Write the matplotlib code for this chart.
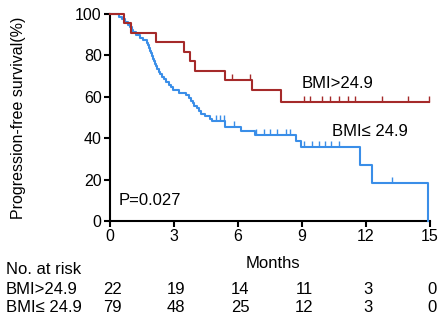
import matplotlib
matplotlib.use("Agg")
import matplotlib.pyplot as plt
import matplotlib.transforms as mtransforms
import numpy as np

plt.rcParams['font.family'] = ['Liberation Sans', 'DejaVu Sans']

# ---- data ----
red_times = [0.66, 0.97, 2.14, 3.47, 3.73, 3.97, 5.37, 6.67, 8.03]
red_surv = [95.5, 90.9, 86.4, 81.8, 77.3, 72.7, 68.2, 63.3, 57.6]
red_censor = [5.72, 6.56, 9.09, 9.38, 9.95, 10.31, 10.74, 11.16, 11.47, 12.77, 13.97, 14.95]
red_end = 14.95

blue_times = [0.40, 0.55, 0.70, 0.85, 0.95, 1.03, 1.10, 1.20, 1.40, 1.55, 1.73, 1.78,
              1.82, 1.86, 1.90, 1.95, 2.00, 2.05, 2.10, 2.15, 2.22, 2.28, 2.34, 2.45,
              2.53, 2.62, 2.75, 2.85, 2.95, 3.25, 3.55, 3.72, 3.80, 3.88, 3.95, 4.10,
              4.18, 4.25, 4.45, 4.70, 4.80, 5.39, 6.13, 6.80, 8.70, 8.94, 11.70, 12.27, 14.92]
blue_surv = [98.7, 97.5, 96.2, 94.9, 93.7, 92.4, 91.1, 89.9, 88.6, 87.3, 86.1, 84.8,
             83.5, 82.3, 81.0, 79.7, 78.5, 77.2, 75.9, 74.7, 73.4, 72.2, 70.9, 69.6,
             68.4, 67.1, 65.8, 64.6, 63.3, 62.0, 60.8, 59.5, 58.2, 57.0, 55.7, 54.4,
             53.2, 51.9, 50.6, 49.4, 48.1, 45.3, 43.6, 41.5, 38.8, 35.8, 27.0, 18.2, 0.0]
blue_censor = [4.95, 5.15, 5.34, 5.81, 6.83, 7.22, 7.49, 7.85, 8.27, 8.42,
               9.10, 9.48, 9.80, 10.10, 10.34, 10.74, 13.20]
blue_end = 14.92

x_ticks = [0, 3, 6, 9, 12, 15]
y_ticks = [0, 20, 40, 60, 80, 100]
risk_groups = ["BMI>24.9", "BMI\u2264 24.9"]
risk_red = [22, 19, 14, 11, 3, 0]
risk_blue = [79, 48, 25, 12, 3, 0]

RED = "#a52a2a"
BLUE = "#3a8ee8"
FS = 12

W, H = 447, 320
fig = plt.figure(figsize=(W / 100, H / 100), dpi=100)
ax = fig.add_axes([110 / W, (H - 221) / H, 320 / W, 207 / H])


def surv_at(times, surv, t):
    s = 100.0
    for ti, si in zip(times, surv):
        if ti <= t:
            s = si
    return s


def draw(times, surv, censor, end, color):
    xs = [0.0] + list(times)
    ys = [100.0] + list(surv)
    xs = xs + [end]
    ys = ys + [ys[-1]]
    ax.step(xs, ys, where='post', color=color, lw=1.5, clip_on=False, zorder=3)
    cy = [surv_at(times, surv, c) for c in censor]
    ax.plot(censor, cy, linestyle='none', marker=2, markersize=4.5,
            markeredgewidth=1.0, color=color, clip_on=False, zorder=3)


draw(blue_times, blue_surv, blue_censor, blue_end, BLUE)
draw(red_times, red_surv, red_censor, red_end, RED)

ax.set_xlim(0, 15)
ax.set_ylim(0, 100)
ax.set_xticks(x_ticks)
ax.set_yticks(y_ticks)
for s in ['top', 'right']:
    ax.spines[s].set_visible(False)
for s in ['left', 'bottom']:
    ax.spines[s].set_linewidth(1.5)
    ax.spines[s].set_color('black')
ax.tick_params(direction='out', length=4, width=1.5, labelsize=11.5, pad=2)
ax.set_ylabel("Progression-free survival(%)", fontsize=11.5)
ax.yaxis.set_label_coords((26 - 110) / 320, 0.5)

ax.text(9.0, 66.2, "BMI>24.9", fontsize=FS, ha='left', va='center')
ax.text(10.39, 43.1, "BMI\u2264 24.9", fontsize=FS, ha='left', va='center')
ax.text(0.42, 10, "P=0.027", fontsize=FS, ha='left', va='center')

# x label and risk table
trans = mtransforms.blended_transform_factory(ax.transData, fig.transFigure)
fig.text(273 / W, 1 - 263 / H, "Months", fontsize=FS, ha='center', va='center')
fig.text(6 / W, 1 - 270 / H, "No. at risk", fontsize=FS, ha='left', va='center')
fig.text(6 / W, 1 - 290 / H, risk_groups[0], fontsize=FS, ha='left', va='center')
fig.text(6 / W, 1 - 307 / H, risk_groups[1], fontsize=FS, ha='left', va='center')
for xv, r, b in zip(x_ticks, risk_red, risk_blue):
    ax.text(xv + 0.1, 1 - 290 / H, str(r), transform=trans, fontsize=FS, ha='center', va='center')
    ax.text(xv + 0.1, 1 - 307 / H, str(b), transform=trans, fontsize=FS, ha='center', va='center')

fig.savefig("out.png", dpi=100)
